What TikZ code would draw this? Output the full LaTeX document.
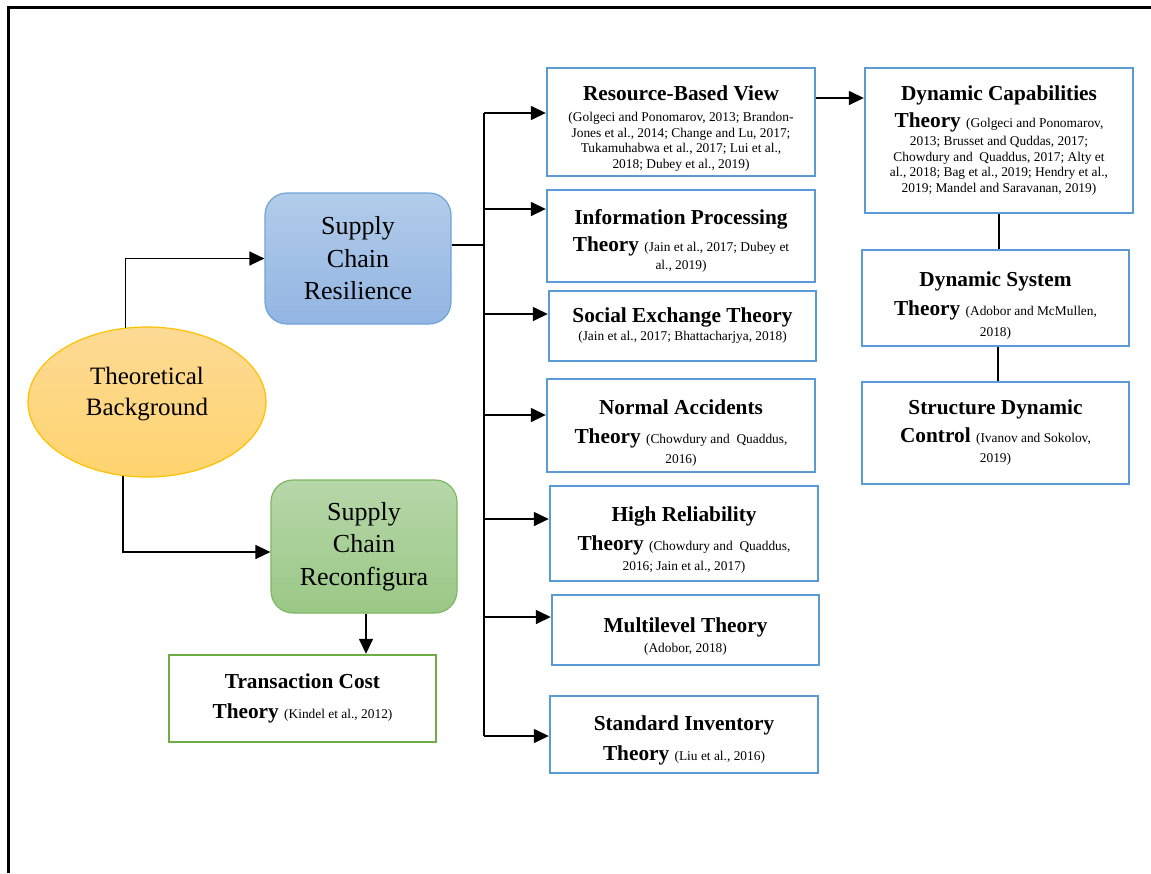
\documentclass[tikz,border=0pt]{standalone}
\usepackage{fontspec}
\setmainfont{Liberation Serif}
\usetikzlibrary{arrows.meta,shapes.geometric}

\definecolor{boxblue}{HTML}{5B9BD5}
\definecolor{scrtop}{HTML}{B2CCEA}
\definecolor{scrbot}{HTML}{92B5E2}
\definecolor{scrline}{HTML}{6FA3DA}
\definecolor{grntop}{HTML}{B7D7A9}
\definecolor{grnbot}{HTML}{9AC886}
\definecolor{grnline}{HTML}{7DB862}
\definecolor{tctline}{HTML}{70AD47}
\definecolor{elltop}{HTML}{FDDA95}
\definecolor{ellbot}{HTML}{FFD46E}
\definecolor{ellline}{HTML}{FFC000}

% title and citation fonts
\newcommand\thtitle{\fontsize{21.3}{21.3}\selectfont\bfseries}
\newcommand\citefnt{\fontsize{13.4}{15.5}\selectfont}
% strut on the first line that lowers a text block inside its box
\newcommand\lowerby[1]{\rule{0pt}{\dimexpr 19pt+2\dimexpr #1\relax\relax}}

\tikzset{
  theorybox/.style={draw=boxblue, line width=2.4pt, fill=white, inner sep=0pt,
    align=center, font=\citefnt},
  tctbox/.style={theorybox, draw=tctline},
  scbox/.style={rounded corners=22pt, line width=1.2pt, inner sep=0pt, align=center,
    font=\fontsize{26}{32.5}\selectfont},
  conn/.style={line width=1.5pt, draw=black},
  arr/.style={conn, -{Triangle[length=15pt,width=14pt]}},
}

\begin{document}
\lineskiplimit=-100pt
\begin{tikzpicture}[x=1pt,y=-1pt]
\useasboundingbox (0,0) rectangle (1151,873);

% page frame (top and left edge)
\draw[line width=3pt] (8,873) -- (8,7) -- (1151,7);

% root ellipse and the two supply chain boxes
\node[ellipse, minimum width=238pt, minimum height=150pt, inner sep=0pt,
      draw=ellline, line width=1.2pt, top color=elltop, bottom color=ellbot,
      align=center, font=\fontsize{25}{31}\selectfont]
  (tb) at (147,402) {Theoretical\\Background\rule[-22pt]{0pt}{1pt}};

\node[scbox, draw=scrline, top color=scrtop, bottom color=scrbot,
      minimum width=186pt, minimum height=131pt]
  (scr) at (358,258.5) {Supply\\Chain\\Resilience};

\node[scbox, draw=grnline, top color=grntop, bottom color=grnbot,
      minimum width=186pt, minimum height=133pt]
  (scrc) at (364,546.5) {Supply\\Chain\\Reconfigura};

\node[tctbox, minimum width=267pt, minimum height=87pt] (tct) at (302.5,698.5)
  {{\thtitle Transaction Cost}\\[14.5pt]{\thtitle Theory }(Kindel et al., 2012)};

% theories under supply chain resilience
\node[theorybox, minimum width=268pt, minimum height=108pt] (rbv) at (681,122)
  {\lowerby{4pt}{\thtitle Resource-Based View}\\[6pt]
   (Golgeci and Ponomarov, 2013; Brandon-\\
   Jones et al., 2014; Change and Lu, 2017;\\
   Tukamuhabwa et al., 2017; Lui et al.,\\
   2018; Dubey et al., 2019)};

\node[theorybox, minimum width=268pt, minimum height=92pt] (ipt) at (681,236)
  {\lowerby{3pt}{\thtitle Information Processing}\\[11.5pt]
   {\thtitle Theory }(Jain et al., 2017; Dubey et\\[2.5pt]
   al., 2019)};

\node[theorybox, minimum width=267pt, minimum height=70pt] (set) at (682.5,326)
  {{\thtitle Social Exchange Theory}\\[2.5pt]
   (Jain et al., 2017; Bhattacharjya, 2018)};

\node[theorybox, minimum width=268pt, minimum height=93pt] (nat) at (681,425.5)
  {\lowerby{5pt}{\thtitle Normal Accidents}\\[14pt]
   {\thtitle Theory }(Chowdury and~ Quaddus,\\[4pt]
   2016)};

\node[theorybox, minimum width=268pt, minimum height=95pt] (hrt) at (684,533.5)
  {\lowerby{4pt}{\thtitle High Reliability}\\[14pt]
   {\thtitle Theory }(Chowdury and~ Quaddus,\\[4pt]
   2016; Jain et al., 2017)};

\node[theorybox, minimum width=267pt, minimum height=70pt] (mlt) at (685.5,630)
  {\lowerby{4pt}{\thtitle Multilevel Theory}\\[4.5pt]
   (Adobor, 2018)};

\node[theorybox, minimum width=268pt, minimum height=77pt] (sit) at (684,734.5)
  {\lowerby{4pt}{\thtitle Standard Inventory}\\[15pt]
   {\thtitle Theory }(Liu et al., 2016)};

% dynamic theories column
\node[theorybox, minimum width=268pt, minimum height=145pt] (dct) at (999,140.5)
  {{\thtitle Dynamic Capabilities}\\[11.5pt]
   {\thtitle Theory }(Golgeci and Ponomarov,\\[2.5pt]
   2013; Brusset and Quddas, 2017;\\
   Chowdury and~ Quaddus, 2017; Alty et\\
   al., 2018; Bag et al., 2019; Hendry et al.,\\
   2019; Mandel and Saravanan, 2019)};

\node[theorybox, minimum width=267pt, minimum height=96pt] (dst) at (995.5,298)
  {\lowerby{5pt}{\thtitle Dynamic System}\\[13.5pt]
   {\thtitle Theory }(Adobor and McMullen,\\[5.5pt]
   2018)};

\node[theorybox, minimum width=267pt, minimum height=102pt] (sdc) at (995.5,433)
  {{\thtitle Structure Dynamic}\\[12.5pt]
   {\thtitle Control }(Ivanov and Sokolov,\\[4.5pt]
   2019)};

% connectors from the root
\draw[arr] (tb.106) |- (scr.west);
\draw[arr] (tb.-108) |- ([yshift=-5.5pt]scrc.west);
\draw[arr] (scrc.south -| 366,0) -- (tct.north -| 366,0);

% trunk feeding the resilience theories
\coordinate (hub) at (484,245);
\coordinate (b1) at (484,113);
\coordinate (b2) at (484,209);
\coordinate (b3) at (484,314);
\coordinate (b4) at (484,415);
\coordinate (b5) at (484,519);
\coordinate (b6) at (484,617);
\coordinate (b7) at (484,736);
\draw[conn] (hub -| scr.east) -- (hub);
\draw[conn] (b1) -- (b7);
\draw[arr] (b1) -- (b1 -| rbv.west);
\draw[arr] (b2) -- (b2 -| ipt.west);
\draw[arr] (b3) -- (b3 -| set.west);
\draw[arr] (b4) -- (b4 -| nat.west);
\draw[arr] (b5) -- (b5 -| hrt.west);
\draw[arr] (b6) -- (b6 -| mlt.west);
\draw[arr] (b7) -- (b7 -| sit.west);

% resource-based view to the dynamic column
\draw[arr] ([yshift=24pt]rbv.east) coordinate (r1) -- (r1 -| dct.west);
\draw[conn] (dct.south) -- (dct.south |- dst.north);
\draw[conn] ([xshift=2.5pt]dst.south) -- ([xshift=2.5pt]sdc.north);
\end{tikzpicture}
\end{document}
